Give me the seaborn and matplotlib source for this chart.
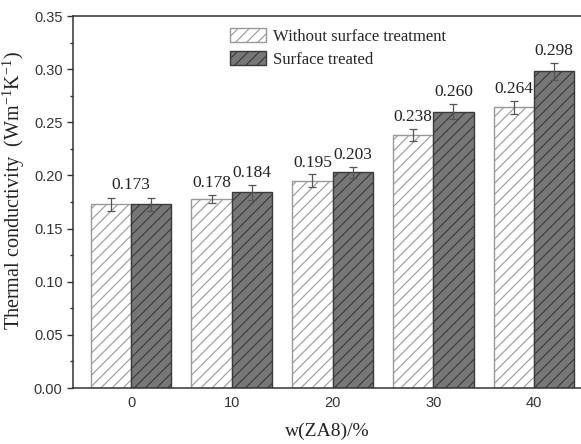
import numpy as np
import pandas as pd
import matplotlib
matplotlib.use("Agg")
import matplotlib.pyplot as plt
import seaborn as sns
from matplotlib.ticker import MultipleLocator
from matplotlib.patches import Patch

# data
loadings = ["0", "10", "20", "30", "40"]
series = ["Without surface treatment", "Surface treated"]
untreated = [0.173, 0.178, 0.195, 0.238, 0.264]
treated = [0.173, 0.184, 0.203, 0.260, 0.298]
untreated_err = [0.006, 0.004, 0.006, 0.006, 0.006]
treated_err = [0.006, 0.007, 0.005, 0.007, 0.008]
labels_untreated = ["", "0.178", "0.195", "0.238", "0.264"]
labels_treated = ["", "0.184", "0.203", "0.260", "0.298"]
labels_group = ["0.173", "", "", "", ""]

df = pd.DataFrame({
    "w": loadings * 2,
    "series": [series[0]] * 5 + [series[1]] * 5,
    "k": untreated + treated,
})

sns.set_theme(style="ticks")
plt.rcParams["font.family"] = ["Liberation Sans", "DejaVu Sans"]
plt.rcParams["hatch.linewidth"] = 0.8

fig = plt.figure(figsize=(5.81, 4.44), dpi=100)
ax = fig.add_axes([73 / 581, 56 / 444, 1 - 73 / 581, 372 / 444])

face = {series[0]: "white", series[1]: "#777777"}
edge = {series[0]: "#999999", series[1]: "#3a3a3a"}

sns.barplot(data=df, x="w", y="k", hue="series", order=loadings, hue_order=series,
            palette=face, width=0.8, errorbar=None, ax=ax, legend=False)

serif = ["Liberation Serif", "DejaVu Serif"]
errs = [untreated_err, treated_err]
vals = [untreated, treated]
labs = [labels_untreated, labels_treated]
bar_containers = list(ax.containers)
centers = []
for ci, cont in enumerate(bar_containers):
    name = series[ci]
    xs = []
    for j, p in enumerate(cont.patches):
        p.set_facecolor(face[name])
        p.set_edgecolor(edge[name])
        p.set_hatch("///")
        p.set_linewidth(1.0)
        x = p.get_x() + p.get_width() / 2
        xs.append(x)
        ax.errorbar(x, vals[ci][j], yerr=errs[ci][j], fmt="none", ecolor="#555555",
                    elinewidth=0.9, capsize=3, capthick=0.9, zorder=5)
        if labs[ci][j]:
            ax.text(x, vals[ci][j] + errs[ci][j] + 0.0035, labs[ci][j], ha="center",
                    va="bottom", fontsize=12.5, family=serif, color="#222222")
    centers.append(xs)

for j, lab in enumerate(labels_group):
    if lab:
        x = (centers[0][j] + centers[1][j]) / 2
        top = max(vals[0][j] + errs[0][j], vals[1][j] + errs[1][j])
        ax.text(x, top + 0.0045, lab, ha="center", va="bottom", fontsize=12.5,
                family=serif, color="#222222")

# legend with hatched patches
handles = [Patch(facecolor=face[s], edgecolor=edge[s], hatch="///", label=s) for s in series]
ax.legend(handles=handles, loc="upper left", bbox_to_anchor=(0.284, 1.0), frameon=False,
          prop={"family": serif, "size": 12}, handlelength=2.2, handleheight=0.9,
          handletextpad=0.4, labelspacing=0.35, borderaxespad=0.35)

ax.set_xlim(-0.576, 4.466)
ax.set_ylim(0, 0.35)
ax.yaxis.set_major_locator(MultipleLocator(0.05))
ax.yaxis.set_minor_locator(MultipleLocator(0.025))
ax.yaxis.set_major_formatter(matplotlib.ticker.FormatStrFormatter("%.2f"))
ax.tick_params(axis="y", which="major", length=4, width=1, labelsize=10.5, colors="#333333")
ax.tick_params(axis="y", which="minor", length=2.5, width=1, colors="#333333")
ax.tick_params(axis="x", length=0, labelsize=10.5, pad=6, colors="#333333")
for s in ["left", "bottom", "top"]:
    ax.spines[s].set_visible(True)
    ax.spines[s].set_linewidth(1.1)
    ax.spines[s].set_color("#333333")
ax.spines["right"].set_visible(False)

ax.set_xlabel("w(ZA8)/%", family=serif, fontsize=14, labelpad=9, color="#222222")
ax.set_ylabel("Thermal conductivity  (Wm$^{\\mathregular{-1}}$K$^{\\mathregular{-1}}$)",
              family=serif, fontsize=14.5, color="#222222")
ax.yaxis.set_label_coords(-0.09, 0.53)

fig.savefig("out.png", dpi=100)
